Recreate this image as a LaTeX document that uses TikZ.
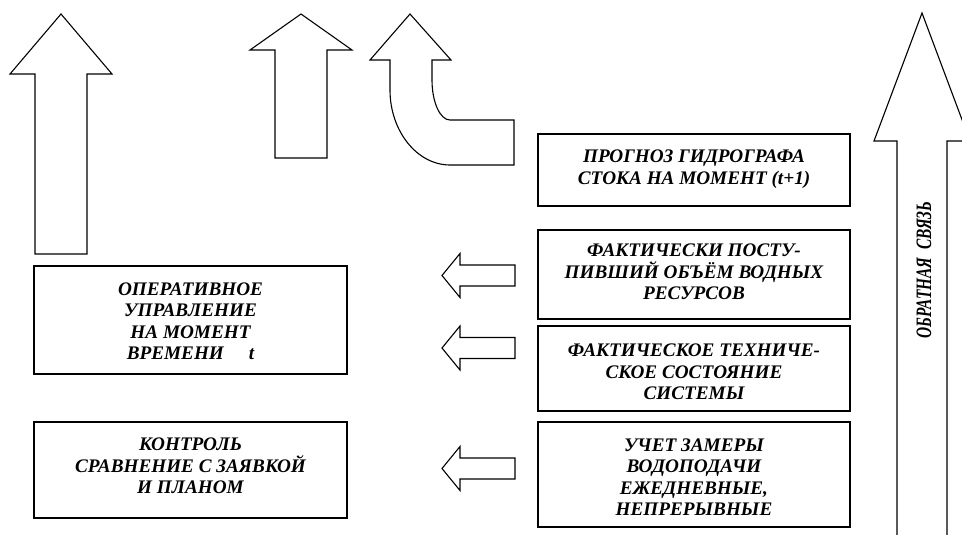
\documentclass[tikz,border=0pt]{standalone}
\usepackage{fontspec}
\setmainfont{Liberation Serif}
\usepackage{graphicx}
\begin{document}
\begin{tikzpicture}[x=1pt,y=-1pt,
  blockarrow/.style={draw=black,line width=1.1pt,line join=miter,fill=white},
  boxnode/.style={draw=black,line width=1.4pt,rectangle,align=center,inner sep=0pt},
  lbl/.style={align=center,inner sep=0pt,font=\fontsize{19.2}{21.5}\selectfont\bfseries\itshape}]
\useasboundingbox (0,0) rectangle (962,535);
\clip (0,0) rectangle (962,535);
\fill[white] (0,0) rectangle (962,535);

% tall left up arrow
\draw[blockarrow] (35,254) -- (35,74) -- (10,74) -- (61,14) -- (112,74) -- (87,74) -- (87,254) -- cycle;
% middle up arrow
\draw[blockarrow] (275,158) -- (275,50) -- (250,50) -- (301,14) -- (352,50) -- (327,50) -- (327,158) -- cycle;
% curved arrow
\draw[blockarrow] (390,60) -- (370,60) -- (410,14) -- (451,60) -- (432,60) -- (432,80)
  .. controls (432,102) and (440,120) .. (450,120) -- (514,120) -- (514,165) -- (450,165)
  .. controls (417,165) and (390,131) .. (390,90) -- cycle;

% right boxes
\node[boxnode,minimum width=312pt,minimum height=72pt] (prog) at (694,170) {};
\node[lbl] (progt) at (694,169) {ПРОГНОЗ ГИДРОГРАФА\\СТОКА НА МОМЕНТ (t+1)};
\node[boxnode,minimum width=312pt,minimum height=89pt] (fact) at (694,274.5) {};
\node[lbl] (factt) at (694,272) {ФАКТИЧЕСКИ ПОСТУ-\\ПИВШИЙ ОБЪЁМ ВОДНЫХ\\РЕСУРСОВ};
\node[boxnode,minimum width=312pt,minimum height=85pt] (tech) at (694,368.5) {};
\node[lbl] (techt) at (694,372) {ФАКТИЧЕСКОЕ ТЕХНИЧЕ-\\СКОЕ СОСТОЯНИЕ\\СИСТЕМЫ};
\node[boxnode,minimum width=312pt,minimum height=105pt] (uchet) at (694,474.5) {};
\node[lbl] (uchett) at (694,477) {УЧЕТ ЗАМЕРЫ\\ВОДОПОДАЧИ\\ЕЖЕДНЕВНЫЕ,\\НЕПРЕРЫВНЫЕ};

% left boxes
\node[boxnode,minimum width=313pt,minimum height=108pt] (oper) at (190.5,320) {};
\node[lbl] (opert) at (190.5,321) {ОПЕРАТИВНОЕ\\УПРАВЛЕНИЕ\\НА МОМЕНТ\\ВРЕМЕНИ\hspace{1.3em}t};
\node[boxnode,minimum width=313pt,minimum height=96pt] (kontr) at (190.5,470) {};
\node[lbl] (kontrt) at (190.5,466) {КОНТРОЛЬ\\СРАВНЕНИЕ С ЗАЯВКОЙ\\И ПЛАНОМ};

% small left arrows
\foreach \c in {275.5,348,468.5}{
  \draw[blockarrow] (515,\c-10.5) -- (460,\c-10.5) -- (460,\c-22) -- (442,\c) -- (460,\c+22) -- (460,\c+10.5) -- (515,\c+10.5) -- cycle;
}

% big right feedback arrow
\draw[blockarrow] (897,545) -- (897,141) -- (874,141) -- (922,13) -- (970,141) -- (947,141) -- (947,545);
\node[rotate=90,inner sep=0pt,font=\fontsize{22}{24}\selectfont\bfseries\itshape] (obr) at (924,270) {\scalebox{0.7}[1]{ОБРАТНАЯ\ \ СВЯЗЬ}};
\end{tikzpicture}
\end{document}
